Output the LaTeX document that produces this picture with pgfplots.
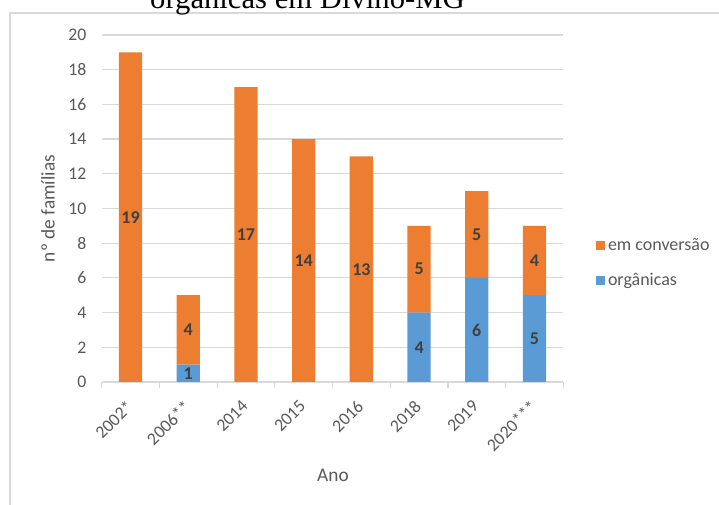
\documentclass[border=0pt]{standalone}
\usepackage{fontspec}
\setmainfont{Carlito}
\newfontfamily\titlefont{Liberation Serif}
\usepackage{pgfplots}
\pgfplotsset{compat=1.18}
\definecolor{orgblue}{HTML}{5B9BD5}
\definecolor{convorange}{HTML}{ED7D31}
\definecolor{txtgray}{HTML}{595959}
\definecolor{gridgray}{HTML}{D9D9D9}
\definecolor{lblgray}{HTML}{404040}

\begin{document}
\begin{tikzpicture}
\clip (0pt,0pt) rectangle (539.25pt,378.75pt);
% chart frame, cut by the page edge like in the source
\draw[gridgray, line width=1pt] (7.5pt,-10pt) -- (7.5pt,369pt) -- (560pt,369pt);
\node[font=\titlefont\fontsize{23}{27}\selectfont, anchor=base, inner sep=0pt] at (230.6pt,372.5pt) {orgânicas em Divino-MG};
\begin{axis}[
  at={(76.3pt,92.25pt)}, anchor=south west,
  scale only axis, width=346.2pt, height=260.25pt,
  ybar stacked, bar width=17.5pt,
  xmin=-0.5, xmax=7.5, ymin=0, ymax=20,
  /pgf/number format/assume math mode=true,
  axis x line*=bottom, axis y line*=left,
  y axis line style={draw=none},
  x axis line style={draw=gridgray, line width=0.9pt},
  ymajorgrids, grid style={gridgray, line width=0.9pt},
  ytick={0,2,...,20},
  xtick={0,...,7},
  xticklabels={2002*,2006**,2014,2015,2016,2018,2019,2020***},
  major tick length=0pt,
  minor xtick={-0.5,0.5,...,7.5},
  minor tick length=4.5pt, tick align=outside,
  minor tick style={draw=gridgray, line width=0.9pt},
  xticklabel style={yshift=-8pt, xshift=-4pt, rotate=45, anchor=north east, font=\fontsize{13.3}{15}\selectfont, text=txtgray},
  yticklabel style={xshift=-8pt, font=\fontsize{13.3}{15}\selectfont, text=txtgray},
  ylabel={nº de famílias},
  ylabel style={at={(rel axis cs:-0.1163,0.5)}, anchor=center, font=\fontsize{14.5}{16}\selectfont, text=txtgray},
  xlabel={Ano},
  xlabel style={at={(rel axis cs:0.501,-0.268)}, anchor=center, font=\fontsize{14.5}{16}\selectfont, text=txtgray},
  point meta=rawy,
  nodes near coords={\pgfmathfloatifflags{\pgfplotspointmeta}{0}{}{\pgfmathprintnumber{\pgfplotspointmeta}}},
  every node near coord/.style={anchor=center, font=\bfseries\fontsize{13.5}{15}\selectfont, text=lblgray},
  legend style={at={(rel axis cs:1.0708,0.4207)}, anchor=north west, draw=none, fill=none,
    inner sep=0pt, row sep=11pt, nodes={text=txtgray, font=\fontsize{13.5}{15}\selectfont}},
  legend cell align=left, reverse legend,
  legend image code/.code={\fill[#1,draw=none] (0pt,-3.4pt) rectangle (6.8pt,3.4pt);},
]
\addplot[fill=orgblue, draw=none] coordinates {(0,0) (1,1) (2,0) (3,0) (4,0) (5,4) (6,6) (7,5)};
\addlegendentry{orgânicas}
\addplot[fill=convorange, draw=none] coordinates {(0,19) (1,4) (2,17) (3,14) (4,13) (5,5) (6,5) (7,4)};
\addlegendentry{em conversão}
\end{axis}
\end{tikzpicture}
\end{document}
